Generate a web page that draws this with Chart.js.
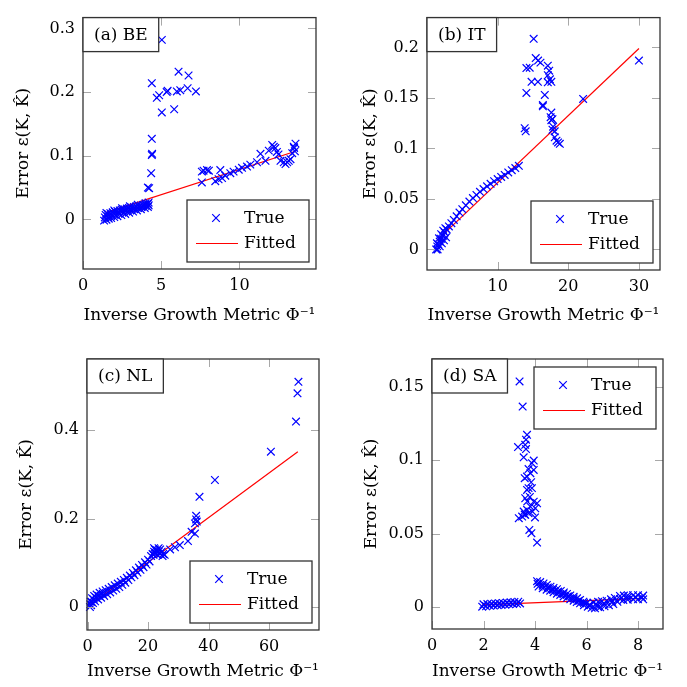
<!DOCTYPE html>
<html lang="en">
<head>
<meta charset="UTF-8">
<title>Error vs inverse growth metric</title>
<script src="https://cdn.jsdelivr.net/npm/chart.js"></script>
<style>
  html, body { margin: 0; padding: 0; background: #fff; }
  #wrap { position: relative; width: 687px; height: 687px; overflow: hidden; }
  #wrap canvas { position: absolute; left: 0; top: 0; }
</style>
</head>
<body>
<div id="wrap">
  <canvas id="chartBE" width="687" height="687"></canvas>
  <canvas id="chartIT" width="687" height="687"></canvas>
  <canvas id="chartNL" width="687" height="687"></canvas>
  <canvas id="chartSA" width="687" height="687"></canvas>
</div>

<script>
// ---- data: [inverse growth metric, error] ----
const beTicksX = [0, 5, 10];
const beTicksY = [0, 0.1, 0.2, 0.3];
const beTrue = [
  [1.5,0.01],[2.0,0.014],[2.5,0.0175],[3.0,0.0205],[3.5,0.023],[4.0,0.0255],[4.2,0.0265],
  [1.45,0.007],[1.6,0.0085],[1.75,0.0098],[1.9,0.011],[2.05,0.012],[2.2,0.013],[2.35,0.014],[2.5,0.015],
  [2.65,0.016],[2.8,0.017],[2.95,0.0178],[3.1,0.0186],[3.25,0.0194],[3.4,0.0202],[3.55,0.021],[3.7,0.0218],
  [3.85,0.0226],[4.0,0.0234],[4.15,0.0245],
  [1.4,0.003],[1.6,0.0045],[1.8,0.006],[2.0,0.008],[2.25,0.0098],[2.5,0.0115],[2.75,0.013],[3.0,0.0148],
  [3.25,0.0163],[3.5,0.0178],[3.75,0.0195],[4.0,0.021],[4.2,0.022],
  [1.35,-0.002],[1.5,-0.0005],[1.65,0.001],[1.8,0.002],[2.0,0.0035],[2.2,0.005],[2.45,0.0068],[2.7,0.0085],
  [2.95,0.0105],[3.2,0.0122],[3.45,0.014],[3.7,0.016],[3.95,0.018],[4.15,0.0195],
  [4.15,0.050],[4.23,0.049],[4.36,0.0725],[4.40,0.101],[4.42,0.103],[4.40,0.1265],
  [4.40,0.214],[4.72,0.191],[4.87,0.195],[5.04,0.282],[5.04,0.168],[5.35,0.200],[5.41,0.202],[5.83,0.173],
  [6.0,0.201],[6.11,0.232],[6.22,0.203],[6.69,0.206],[6.75,0.226],[7.22,0.201],
  [7.6,0.058],[7.6,0.075],[7.71,0.0765],[7.93,0.0775],[8.05,0.0765],[8.46,0.060],[8.67,0.063],[8.78,0.0775],
  [8.89,0.065],[9.1,0.0686],[9.42,0.0725],[9.63,0.075],[9.96,0.078],[10.17,0.081],[10.49,0.083],[10.7,0.086],
  [11.13,0.0897],[11.35,0.103],[11.67,0.092],[11.88,0.108],[12.1,0.117],[12.2,0.114],[12.3,0.112],[12.4,0.106],
  [12.5,0.102],[12.63,0.092],[12.84,0.0897],[12.95,0.087],[13.06,0.0897],[13.16,0.092],[13.27,0.0946],
  [13.38,0.104],[13.48,0.114],[13.59,0.119],[13.5,0.112],[13.55,0.107]
];
const beFitted = [[1.5,0.011],[13.6,0.107]];

const itTicksX = [10, 20, 30];
const itTicksY = [0, 0.05, 0.1, 0.15, 0.2];
const itTrue = [
  [1.3,0.000],[1.45,0.003],[1.6,0.005],[1.8,0.0078],[2.0,0.0105],[2.25,0.0135],[2.5,0.0168],[2.8,0.0196],
  [3.1,0.0228],[3.45,0.026],[3.8,0.0292],[4.2,0.0328],[4.6,0.0365],[5.0,0.0398],[5.5,0.0437],[6.0,0.0474],
  [6.5,0.0508],[7.0,0.054],[7.5,0.057],[8.0,0.0598],[8.5,0.0625],[9.0,0.065],[9.5,0.0675],[10.0,0.0697],
  [10.5,0.0718],[11.0,0.0738],[11.5,0.0762],[12.0,0.0785],[12.5,0.0806],[13.0,0.0828],
  [1.4,0.006],[1.7,0.011],[2.0,0.015],[2.3,0.0185],[2.6,0.021],
  [1.5,0.0],[1.8,0.003],[2.1,0.006],[2.4,0.009],[2.7,0.012],
  [13.83,0.120],[13.97,0.117],[14.07,0.155],[14.07,0.1796],[14.54,0.180],[14.8,0.166],[15.1,0.2086],
  [15.39,0.1895],[15.72,0.187],[16.06,0.185],[15.7,0.166],[16.4,0.143],[16.4,0.1417],[16.67,0.153],
  [17.1,0.182],[17.3,0.177],[17.1,0.1725],[17.1,0.1655],[17.6,0.166],[17.4,0.1685],[17.6,0.1355],
  [17.5,0.131],[17.6,0.128],[17.76,0.129],[17.85,0.1216],[18.08,0.117],[17.76,0.1185],[18.08,0.111],
  [18.33,0.1077],[18.55,0.106],[18.8,0.1046],[22.1,0.149],[30.0,0.187]
];
const itFitted = [[1.4,0.009],[30,0.199]];

const nlTicksX = [0, 20, 40, 60];
const nlTicksY = [0, 0.2, 0.4];
const nlTrue = [
  [1.0,0.012],[1.5,0.02],[2.2,0.025],[3,0.028],[4,0.032],[5,0.035],[6,0.038],[7,0.041],[8,0.045],[9,0.049],
  [10,0.053],[11,0.057],[12,0.061],[13,0.066],[14,0.071],[15,0.077],[16,0.083],[17,0.089],[18,0.095],
  [19,0.101],[20,0.107],
  [0.8,0.0],[1.2,0.004],[1.8,0.009],[2.5,0.013],[3.5,0.017],[4.5,0.021],[5.5,0.025],[6.5,0.029],[7.5,0.033],
  [8.5,0.037],[9.5,0.041],[10.5,0.045],[11.5,0.05],[12.5,0.055],[13.5,0.061],[14.5,0.067],[15.5,0.072],
  [16.5,0.078],[17.5,0.084],[18.5,0.09],[19.5,0.096],[20.5,0.103],
  [0.9,0.006],[1.3,0.012],[2.0,0.017],[2.8,0.021],[3.8,0.025],[5,0.03],
  [21,0.115],[21.5,0.12],[22,0.125],[22.3,0.13],[22.5,0.122],[23,0.128],[23,0.118],[23.5,0.125],[24,0.12],
  [24,0.13],[24.5,0.125],[25,0.12],[22,0.133],[23.5,0.133],[21.8,0.118],[24.8,0.115],[25.5,0.118],
  [27.3,0.130],[28.9,0.135],[30.5,0.140],[33.2,0.149],[34.4,0.170],[35.5,0.166],[35.5,0.189],[36.1,0.193],
  [35.9,0.198],[35.9,0.206],[37.0,0.249],[42.1,0.287],[60.6,0.351],[68.9,0.419],[69.4,0.483],[69.7,0.509]
];
const nlFitted = [[1.0,0.005],[69.5,0.351]];

const saTicksX = [0, 2, 4, 6, 8];
const saTicksY = [0, 0.05, 0.1, 0.15];
const saTrue = [
  [2.0,0.0018],[2.15,0.002],[2.3,0.0022],[2.45,0.0024],[2.6,0.0026],[2.75,0.0028],[2.9,0.003],[3.05,0.0032],
  [3.2,0.0034],[3.35,0.0036],
  [1.95,0.0002],[2.1,0.0005],[2.25,0.0008],[2.4,0.001],[2.55,0.0012],[2.7,0.0014],[2.85,0.0016],[3.0,0.0018],
  [3.15,0.002],[3.3,0.0022],[3.42,0.0024],
  [3.40,0.1537],[3.52,0.1366],[3.69,0.1173],[3.65,0.114],[3.62,0.1105],[3.34,0.109],[3.65,0.1076],[3.56,0.102],
  [3.95,0.0998],[3.88,0.098],[3.75,0.094],[3.95,0.0934],[3.82,0.0912],[3.6,0.0878],[3.69,0.0889],[3.75,0.081],
  [3.88,0.081],[3.69,0.0798],[3.62,0.0741],[3.95,0.0718],[4.08,0.0707],[3.82,0.0684],[4.01,0.0673],[3.69,0.0662],
  [3.56,0.065],[3.75,0.0639],[3.62,0.0628],[3.37,0.0605],[3.5,0.0616],[3.78,0.0525],[3.86,0.0503],[4.08,0.0439],
  [3.85,0.085],[3.7,0.072],[3.9,0.065],[3.8,0.075],[4.0,0.061],[3.6,0.063],
  [4.08,0.0176],[4.2,0.017],[4.33,0.016],[4.46,0.015],[4.6,0.0138],[4.72,0.013],[4.85,0.0121],[5.0,0.0109],
  [5.12,0.0099],[5.24,0.0089],[5.37,0.0079],[5.5,0.0069],[5.63,0.0059],[5.75,0.0048],[5.88,0.0036],[6.0,0.0025],
  [6.14,0.0014],
  [4.1,0.0158],[4.3,0.0145],[4.5,0.0133],[4.7,0.0118],[4.9,0.0105],[5.1,0.0089],[5.3,0.0074],[5.5,0.0058],
  [5.7,0.0043],[5.9,0.0027],[6.1,0.0012],
  [4.14,0.0139],[4.3,0.0128],[4.45,0.0118],[4.59,0.0111],[4.72,0.0101],[4.85,0.0091],[4.98,0.0082],[5.11,0.0072],
  [5.24,0.0063],[5.37,0.0053],[5.5,0.0043],[5.62,0.0034],[5.75,0.0025],[5.9,0.0012],[6.05,0.0002],[6.2,-0.0006],
  [6.33,-0.0009],
  [6.27,0.003],[6.45,0.0035],[6.6,0.004],[6.78,0.0043],[6.95,0.0052],[7.1,0.0062],[7.3,0.0075],[7.45,0.0078],
  [7.6,0.008],[7.81,0.008],[8.0,0.008],[8.2,0.0078],
  [6.45,0.0],[6.53,-0.0002],[6.7,0.0005],[6.87,0.0012],[7.04,0.002],[7.2,0.0035],[7.43,0.0048],[7.6,0.005],
  [7.81,0.0052],[8.0,0.0052],[8.2,0.0052],
  [6.4,0.0015],[6.7,0.002],[7.0,0.0035],[7.3,0.0055],[7.6,0.0065],[7.9,0.0066],[8.15,0.0065]
];
const saFitted = [[1.95,0.0014],[8.2,0.0059]];

// ---- layout of the four panels (page pixels) ----
const FONT = "'DejaVu Serif', serif";
const X_AXIS_H = 60;
const panels = [
  { id: 'chartBE', label: '(a) BE', pts: beTrue, fit: beFitted, tx: beTicksX, ty: beTicksY,
    x: [0, 14.9], y: [-0.078, 0.317], area: { left: 83, top: 1, right: 316, bottom: 269 },
    padLeft: 0, yTitleX: 24, xTitleY: 316, legend: 'se' },
  { id: 'chartIT', label: '(b) IT', pts: itTrue, fit: itFitted, tx: itTicksX, ty: itTicksY,
    x: [0, 32.98], y: [-0.0204, 0.2296], area: { left: 427, top: 1, right: 660, bottom: 270 },
    padLeft: 344, yTitleX: 371, xTitleY: 316, legend: 'se' },
  { id: 'chartNL', label: '(c) NL', pts: nlTrue, fit: nlFitted, tx: nlTicksX, ty: nlTicksY,
    x: [-0.17, 76.5], y: [-0.052, 0.5605], area: { left: 87, top: 359, right: 319, bottom: 630 },
    padLeft: 0, yTitleX: 27, xTitleY: 672, legend: 'se' },
  { id: 'chartSA', label: '(d) SA', pts: saTrue, fit: saFitted, tx: saTicksX, ty: saTicksY,
    x: [0, 8.97], y: [-0.015, 0.169], area: { left: 432, top: 359, right: 663, bottom: 629 },
    padLeft: 344, yTitleX: 372, xTitleY: 672, legend: 'ne' }
];

function drawCross(ctx, cx, cy, r) {
  ctx.beginPath();
  ctx.moveTo(cx - r, cy - r); ctx.lineTo(cx + r, cy + r);
  ctx.moveTo(cx - r, cy + r); ctx.lineTo(cx + r, cy - r);
  ctx.stroke();
}

// pgfplots-like frame: inward ticks on all sides, boxed panel tag, boxed legend
const frameStyle = {
  id: 'frameStyle',
  afterDatasetsDraw(chart, args, opts) {
    const { ctx, chartArea: a } = chart;
    const sx = chart.scales.x, sy = chart.scales.y;
    ctx.save();

    ctx.strokeStyle = '#a8a8a8';
    ctx.lineWidth = 1;
    ctx.beginPath();
    sx.ticks.forEach(t => {
      const px = Math.round(sx.getPixelForValue(t.value)) + 0.5;
      ctx.moveTo(px, a.bottom); ctx.lineTo(px, a.bottom - 8);
      ctx.moveTo(px, a.top); ctx.lineTo(px, a.top + 8);
    });
    sy.ticks.forEach(t => {
      const py = Math.round(sy.getPixelForValue(t.value)) + 0.5;
      ctx.moveTo(a.left, py); ctx.lineTo(a.left + 8, py);
      ctx.moveTo(a.right, py); ctx.lineTo(a.right - 8, py);
    });
    ctx.stroke();

    ctx.strokeStyle = '#333';
    ctx.lineWidth = 1.3;
    ctx.strokeRect(a.left, a.top, a.right - a.left, a.bottom - a.top);

    // panel tag in the top-left corner
    ctx.font = '17px ' + FONT;
    const tw = ctx.measureText(opts.label).width;
    const bw = tw + 22, bh = 34;
    ctx.fillStyle = '#fff';
    ctx.fillRect(a.left, a.top, bw, bh);
    ctx.strokeRect(a.left, a.top, bw, bh);
    ctx.fillStyle = '#000';
    ctx.textAlign = 'center';
    ctx.textBaseline = 'middle';
    ctx.fillText(opts.label, a.left + bw / 2, a.top + bh / 2 + 1);

    // legend box
    const lw = 122, lh = 62;
    const lx = a.right - 7 - lw;
    const ly = opts.legend === 'ne' ? a.top + 8 : a.bottom - 7 - lh;
    ctx.fillStyle = '#fff';
    ctx.fillRect(lx, ly, lw, lh);
    ctx.strokeRect(lx, ly, lw, lh);

    const [ptsSet, fitSet] = chart.data.datasets;
    ctx.lineWidth = ptsSet.pointBorderWidth;
    ctx.strokeStyle = ptsSet.borderColor;
    drawCross(ctx, lx + 29, ly + 18, 3.8);
    ctx.strokeStyle = fitSet.borderColor;
    ctx.lineWidth = fitSet.borderWidth;
    ctx.beginPath();
    ctx.moveTo(lx + 9, ly + 43.5); ctx.lineTo(lx + 51, ly + 43.5);
    ctx.stroke();

    ctx.fillStyle = '#000';
    ctx.textAlign = 'left';
    ctx.fillText(ptsSet.label, lx + 57, ly + 19);
    ctx.fillText(fitSet.label, lx + 57, ly + 44);
    ctx.restore();
  }
};

panels.forEach(p => {
  const a = p.area;
  const padBottom = 687 - a.bottom - X_AXIS_H;
  const titleLH = 17 * 1.2;

  new Chart(document.getElementById(p.id), {
    type: 'scatter',
    data: {
      datasets: [{
        label: 'True',
        data: p.pts.map(([x, y]) => ({ x, y })),
        borderColor: '#0000ff',
        backgroundColor: '#0000ff',
        pointStyle: 'crossRot',
        pointRadius: 5.4,
        pointBorderWidth: 1.2,
        clip: false
      }, {
        label: 'Fitted',
        data: p.fit.map(([x, y]) => ({ x, y })),
        showLine: true,
        borderColor: '#ff0000',
        borderWidth: 1.2,
        pointRadius: 0
      }]
    },
    options: {
      responsive: false,
      animation: false,
      events: [],
      layout: {
        padding: { left: p.padLeft, top: a.top, right: 687 - a.right, bottom: padBottom }
      },
      plugins: {
        legend: { display: false },
        tooltip: { enabled: false },
        frameStyle: { label: p.label, legend: p.legend }
      },
      scales: {
        x: {
          type: 'linear',
          min: p.x[0],
          max: p.x[1],
          afterBuildTicks: s => { s.ticks = p.tx.map(v => ({ value: v })); },
          afterFit: s => { s.height = X_AXIS_H; },
          grid: { display: false, drawTicks: false },
          border: { display: false },
          ticks: { color: '#000', padding: 7, font: { family: FONT, size: 16 }, callback: v => String(v) },
          title: {
            display: true,
            text: 'Inverse Growth Metric Φ⁻¹',
            color: '#000',
            font: { family: FONT, size: 17 },
            padding: { top: 0, bottom: a.bottom + X_AXIS_H - titleLH / 2 - p.xTitleY }
          }
        },
        y: {
          type: 'linear',
          min: p.y[0],
          max: p.y[1],
          afterBuildTicks: s => { s.ticks = p.ty.map(v => ({ value: v })); },
          afterFit: s => { s.width = a.left - p.padLeft; },
          grid: { display: false, drawTicks: false },
          border: { display: false },
          ticks: { color: '#000', padding: 8, font: { family: FONT, size: 16 }, callback: v => String(v) },
          title: {
            display: true,
            text: 'Error ε(K, K̂)',
            color: '#000',
            font: { family: FONT, size: 17 },
            padding: { top: p.yTitleX - p.padLeft - titleLH / 2, bottom: 0 }
          }
        }
      }
    },
    plugins: [frameStyle]
  });
});
</script>
</body>
</html>
